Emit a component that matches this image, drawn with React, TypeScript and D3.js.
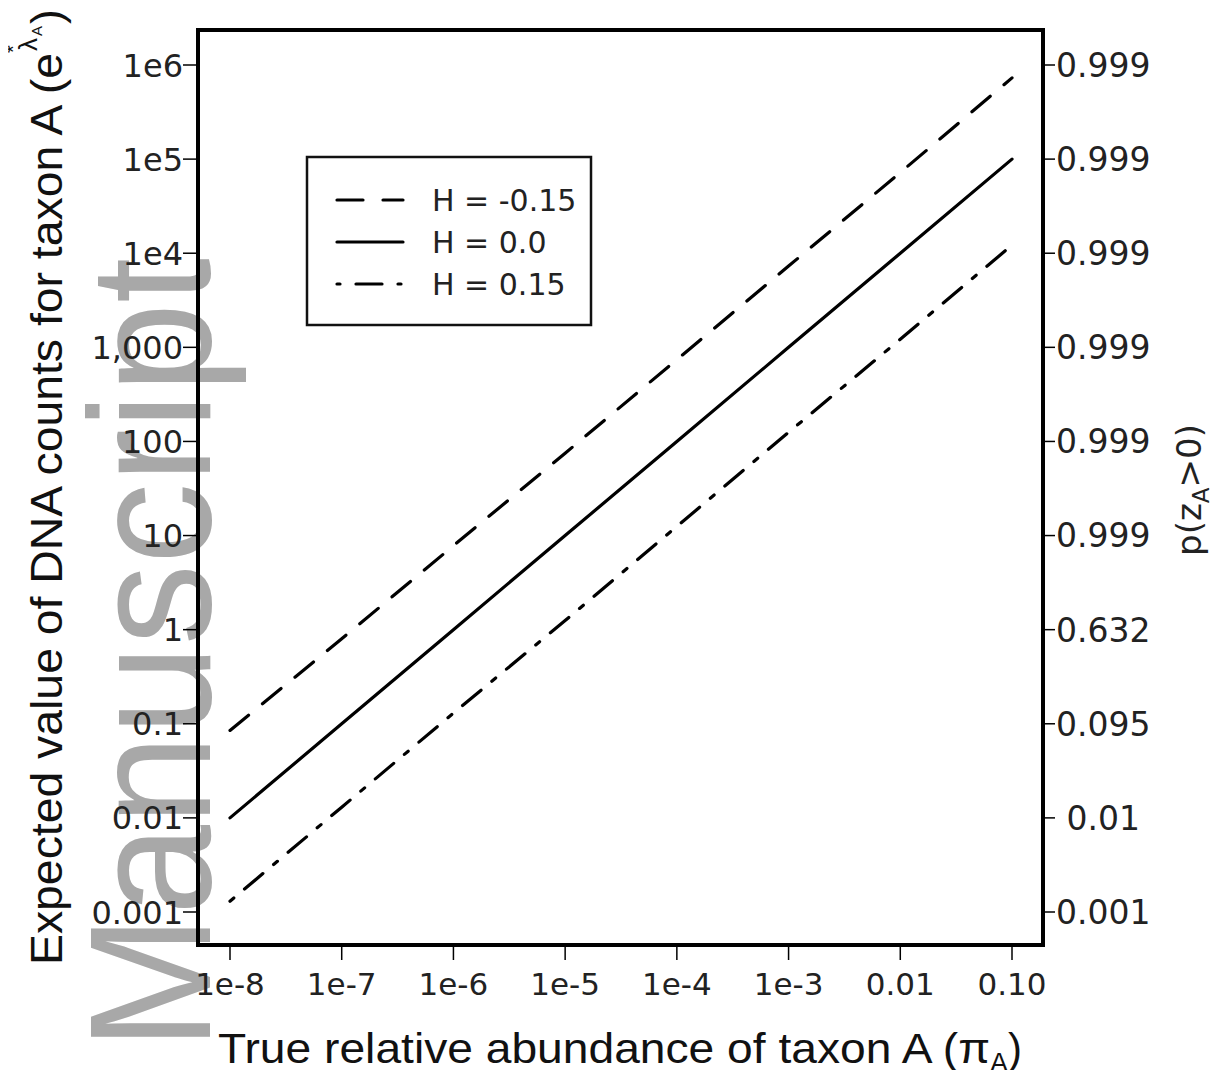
import * as d3 from "d3";
import { useEffect, useRef } from "react";

// x values (true relative abundance), one per decade
const abundance = [1e-8, 1e-7, 1e-6, 1e-5, 1e-4, 1e-3, 0.01, 0.1];

// expected DNA counts, one series per H
const countsHneg = [0.085, 0.8, 7.8, 75, 740, 7300, 72000, 730000];
const countsH0 = [0.01, 0.1, 1, 10, 100, 1000, 10000, 100000];
const countsHpos = [0.0013, 0.013, 0.13, 1.25, 12.5, 125, 1220, 12200];

const seriesNames = ["H = -0.15", "H = 0.0", "H = 0.15"];

const xTickLabels = ["1e-8", "1e-7", "1e-6", "1e-5", "1e-4", "1e-3", "0.01", "0.10"];
const yTicks = [1e6, 1e5, 1e4, 1000, 100, 10, 1, 0.1, 0.01, 0.001];
const yTickLabels = ["1e6", "1e5", "1e4", "1,000", "100", "10", "1", "0.1", "0.01", "0.001"];
const rightTickLabels = ["0.999", "0.999", "0.999", "0.999", "0.999", "0.999", "0.632", "0.095", " 0.01", "0.001"];

const W = 1221;
const H = 1078;

const Chart = () => {
  const ref = useRef(null);

  useEffect(() => {
    if (ref && ref.current) ref.current.innerHTML = "";

    const sans = "'Liberation Sans', Arial, sans-serif";
    const wide = "'DejaVu Sans', sans-serif";
    const svg = d3.select(ref.current)
      .attr("width", W)
      .attr("height", H)
      .style("display", "block")
      .style("font-family", wide);

    // plot box
    const box = { left: 198, right: 1043, top: 30, bottom: 945 };

    const x = d3.scaleLog().domain([1e-8, 0.1]).range([230, 1012]);
    const y = d3.scaleLog().domain([0.001, 1e6]).range([912, 65]);

    // watermark, drawn first so the chart sits on top of it
    svg.append("text")
      .attr("transform", "translate(210,1050) rotate(-90)")
      .attr("font-family", sans)
      .attr("font-size", 172)
      .attr("fill", "#a8a8a8")
      .attr("textLength", 792)
      .attr("lengthAdjust", "spacingAndGlyphs")
      .text("Manuscript");

    svg.append("rect")
      .attr("x", box.left).attr("y", box.top)
      .attr("width", box.right - box.left).attr("height", box.bottom - box.top)
      .attr("fill", "none").attr("stroke", "#000").attr("stroke-width", 4);

    // x axis
    const xg = svg.append("g");
    abundance.forEach((v, i) => {
      xg.append("line")
        .attr("x1", x(v)).attr("x2", x(v))
        .attr("y1", box.bottom).attr("y2", box.bottom + 15)
        .attr("stroke", "#000").attr("stroke-width", 1.5);
      xg.append("text")
        .attr("x", x(v)).attr("y", 995)
        .attr("text-anchor", "middle")
        .attr("font-size", 31)
        .attr("fill", "#222")
        .text(xTickLabels[i]);
    });

    // left y axis
    const yg = svg.append("g");
    yTicks.forEach((v, i) => {
      yg.append("line")
        .attr("x1", box.left - 15).attr("x2", box.left)
        .attr("y1", y(v)).attr("y2", y(v))
        .attr("stroke", "#000").attr("stroke-width", 1.5);
      yg.append("text")
        .attr("x", box.left - 15).attr("y", y(v))
        .attr("dy", "0.36em")
        .attr("text-anchor", "end")
        .attr("font-size", 32)
        .attr("fill", "#222")
        .text(yTickLabels[i]);
    });

    // right y axis
    const rg = svg.append("g");
    yTicks.forEach((v, i) => {
      rg.append("line")
        .attr("x1", box.right).attr("x2", box.right + 12)
        .attr("y1", y(v)).attr("y2", y(v))
        .attr("stroke", "#000").attr("stroke-width", 1.5);
      rg.append("text")
        .attr("x", box.right + 13).attr("y", y(v))
        .attr("dy", "0.36em")
        .attr("font-size", 33)
        .attr("fill", "#222")
        .style("white-space", "pre")
        .text(rightTickLabels[i]);
    });

    // series
    const dashes = ["24,18", null, "5,14,24,14"];
    const allSeries = [countsHneg, countsH0, countsHpos];
    const line = d3.line()
      .x((d, i) => x(abundance[i]))
      .y(d => y(d));
    allSeries.forEach((s, k) => {
      svg.append("path")
        .datum(s)
        .attr("d", line)
        .attr("fill", "none")
        .attr("stroke", "#000")
        .attr("stroke-width", 3.2)
        .attr("stroke-linecap", "round")
        .attr("stroke-dasharray", dashes[k]);
    });

    // legend
    const lg = svg.append("g");
    lg.append("rect")
      .attr("x", 307).attr("y", 157).attr("width", 284).attr("height", 168)
      .attr("fill", "#fff").attr("stroke", "#111").attr("stroke-width", 2.5);
    seriesNames.forEach((name, k) => {
      const ly = 200 + k * 42;
      lg.append("line")
        .attr("x1", 337).attr("x2", 403).attr("y1", ly).attr("y2", ly)
        .attr("stroke", "#000").attr("stroke-width", 3.2)
        .attr("stroke-linecap", "round")
        .attr("stroke-dasharray", k === 0 ? "26,20" : k === 2 ? "3,16,26,16" : null);
      lg.append("text")
        .attr("x", 432).attr("y", ly).attr("dy", "0.36em")
        .attr("font-size", 30).attr("fill", "#222")
        .text(name);
    });

    // x title
    const xt = svg.append("text")
      .attr("x", 218).attr("y", 1063)
      .attr("font-family", sans)
      .attr("font-size", 42).attr("fill", "#111");
    xt.append("tspan")
      .attr("textLength", 772)
      .attr("lengthAdjust", "spacingAndGlyphs")
      .text("True relative abundance of taxon A (\u03c0");
    xt.append("tspan").attr("font-size", 27).attr("dy", 9).text("A");
    xt.append("tspan").attr("dy", -9).text(")");

    // left title
    const yt = svg.append("g")
      .attr("transform", "translate(62,965) rotate(-90)")
      .attr("font-family", sans)
      .attr("fill", "#111");
    yt.append("text")
      .attr("font-size", 44)
      .attr("textLength", 912)
      .attr("lengthAdjust", "spacingAndGlyphs")
      .text("Expected value of DNA counts for taxon A (e");
    yt.append("text").attr("x", 914).attr("y", -25).attr("font-size", 26).text("\u03bb");
    yt.append("text").attr("x", 912).attr("y", -42).attr("font-size", 20).text("*");
    yt.append("text").attr("x", 929).attr("y", -20).attr("font-size", 15).text("A");
    yt.append("text").attr("x", 941).attr("y", 0).attr("font-size", 44).text(")");

    // right title
    const rt = svg.append("text")
      .attr("transform", "translate(1201,490) rotate(-90)")
      .attr("text-anchor", "middle")
      .attr("font-size", 34).attr("fill", "#222");
    rt.append("tspan").text("p(z");
    rt.append("tspan").attr("font-size", 23).attr("dy", 8).text("A");
    rt.append("tspan").attr("dy", -8).text(">0)");
  }, []);

  return <svg ref={ref} />;
};

export default function App() {
  return (
    <div style={{ margin: -8 }}>
      <Chart />
    </div>
  );
}
